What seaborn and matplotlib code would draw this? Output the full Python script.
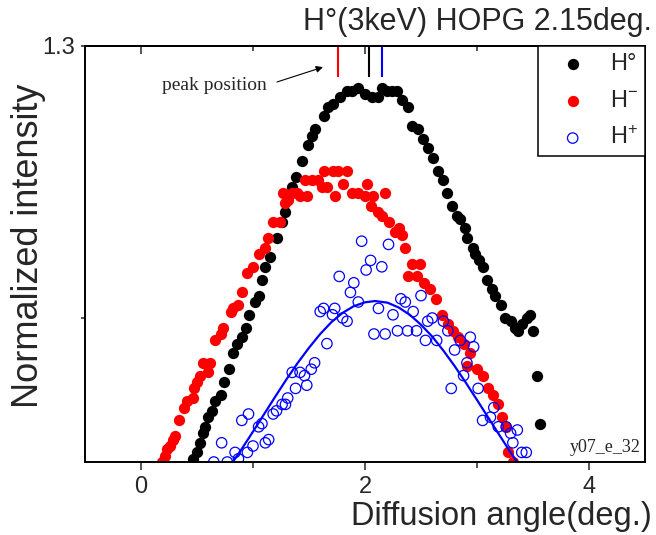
"""H-atom scattering off HOPG: normalized angular distributions."""
import numpy as np
import pandas as pd
import matplotlib.pyplot as plt
import seaborn as sns

sns.set_style("ticks")
plt.rcParams.update({
    "font.family": ["Liberation Sans", "DejaVu Sans"],
    "mathtext.fontset": "custom",
    "mathtext.rm": "Liberation Sans",
    "mathtext.it": "Liberation Sans:italic",
    "mathtext.bf": "Liberation Sans:bold",
    "axes.edgecolor": "black",
    "axes.linewidth": 1.4,
})

# ── data ──────────────────────────────────────────────────────────────────────
# H° (neutral), filled black
h0_x = [0.46, 0.50, 0.53, 0.55, 0.57, 0.60, 0.63, 0.66, 0.71, 0.74, 0.79, 0.82, 0.86, 0.90, 0.94,
        0.96, 1.02, 1.05, 1.08, 1.11, 1.15, 1.21, 1.26, 1.29, 1.35, 1.38, 1.44, 1.49, 1.53, 1.55,
        1.63, 1.67, 1.71, 1.78, 1.84, 1.88, 1.94, 2.00, 2.06, 2.12, 2.15, 2.20, 2.24, 2.29, 2.33,
        2.38, 2.42, 2.47, 2.52, 2.56, 2.61, 2.65, 2.70, 2.73, 2.78, 2.82, 2.85, 2.89, 2.91, 2.96,
        2.98, 3.02, 3.05, 3.09, 3.13, 3.16, 3.21, 3.25, 3.30, 3.34, 3.37, 3.40, 3.45, 3.47, 3.50,
        3.54, 3.56]
h0_y = [0.01, 0.03, 0.06, 0.09, 0.11, 0.14, 0.16, 0.19, 0.21, 0.25, 0.29, 0.34, 0.37, 0.39, 0.42,
        0.46, 0.50, 0.52, 0.57, 0.61, 0.64, 0.70, 0.75, 0.78, 0.86, 0.89, 0.94, 0.99, 1.02, 1.04,
        1.08, 1.11, 1.12, 1.14, 1.16, 1.16, 1.17, 1.15, 1.14, 1.14, 1.17, 1.16, 1.16, 1.16, 1.13,
        1.11, 1.05, 1.04, 1.01, 0.98, 0.95, 0.91, 0.88, 0.84, 0.80, 0.77, 0.76, 0.73, 0.70, 0.67,
        0.65, 0.63, 0.61, 0.57, 0.54, 0.52, 0.49, 0.45, 0.44, 0.42, 0.41, 0.43, 0.45, 0.46, 0.41,
        0.27, 0.12]

# H- (negative ion), filled red
hm_x = [0.19, 0.21, 0.23, 0.26, 0.29, 0.30, 0.34, 0.38, 0.41, 0.46, 0.47, 0.50, 0.53, 0.55, 0.60,
        0.62, 0.66, 0.71, 0.73, 0.80, 0.82, 0.87, 0.90, 0.95, 1.00, 1.05, 1.11, 1.13, 1.18, 1.24,
        1.27, 1.29, 1.31, 1.35, 1.39, 1.42, 1.46, 1.48, 1.53, 1.58, 1.62, 1.63, 1.66, 1.71, 1.73,
        1.76, 1.80, 1.84, 1.88, 1.94, 2.00, 2.02, 2.05, 2.07, 2.12, 2.15, 2.18, 2.21, 2.27, 2.30,
        2.33, 2.36, 2.38, 2.42, 2.46, 2.49, 2.53, 2.58, 2.63, 2.69, 2.74, 2.79, 2.83, 2.88, 2.91,
        2.94, 3.00, 3.05, 3.10, 3.14, 3.19, 3.22, 3.26, 3.28, 3.32]
hm_y = [0.00, 0.02, 0.04, 0.05, 0.07, 0.08, 0.13, 0.17, 0.19, 0.20, 0.23, 0.25, 0.27, 0.31, 0.28,
        0.31, 0.38, 0.40, 0.42, 0.47, 0.48, 0.49, 0.53, 0.59, 0.61, 0.65, 0.67, 0.70, 0.75, 0.75,
        0.84, 0.81, 0.82, 0.84, 0.84, 0.83, 0.88, 0.83, 0.88, 0.88, 0.86, 0.91, 0.86, 0.91, 0.83,
        0.91, 0.87, 0.91, 0.84, 0.84, 0.83, 0.87, 0.80, 0.83, 0.78, 0.77, 0.84, 0.75, 0.72, 0.73,
        0.71, 0.67, 0.58, 0.62, 0.58, 0.62, 0.56, 0.54, 0.51, 0.46, 0.43, 0.41, 0.39, 0.37, 0.30,
        0.34, 0.29, 0.27, 0.23, 0.21, 0.18, 0.14, 0.11, 0.03, 0.00]

# H+ (positive ion), open blue
hp_x = [0.65, 0.72, 0.77, 0.84, 0.87, 0.90, 0.95, 0.96, 1.00, 1.05, 1.08, 1.11, 1.14, 1.18, 1.21,
        1.26, 1.29, 1.31, 1.35, 1.38, 1.42, 1.46, 1.48, 1.52, 1.55, 1.60, 1.63, 1.66, 1.71, 1.73,
        1.77, 1.80, 1.84, 1.87, 1.90, 1.94, 1.97, 2.01, 2.05, 2.08, 2.12, 2.15, 2.18, 2.21, 2.25,
        2.29, 2.32, 2.36, 2.38, 2.43, 2.46, 2.50, 2.54, 2.56, 2.60, 2.64, 2.70, 2.74, 2.77, 2.80,
        2.85, 2.88, 2.91, 2.94, 2.97, 3.01, 3.05, 3.12, 3.15, 3.19, 3.26, 3.30, 3.32, 3.36, 3.40,
        3.44]
hp_y = [0.00, 0.06, 0.00, 0.03, 0.01, 0.13, 0.03, 0.15, 0.05, 0.11, 0.12, 0.06, 0.07, 0.15, 0.16,
        0.18, 0.18, 0.20, 0.28, 0.23, 0.28, 0.27, 0.24, 0.29, 0.31, 0.47, 0.48, 0.37, 0.46, 0.48,
        0.58, 0.45, 0.44, 0.53, 0.56, 0.50, 0.69, 0.60, 0.63, 0.40, 0.48, 0.61, 0.40, 0.68, 0.46,
        0.41, 0.51, 0.50, 0.41, 0.47, 0.41, 0.52, 0.38, 0.44, 0.45, 0.38, 0.44, 0.41, 0.23, 0.35,
        0.38, 0.27, 0.31, 0.39, 0.36, 0.23, 0.13, 0.14, 0.17, 0.11, 0.11, 0.09, 0.06, 0.10, 0.03,
        0.03]

# fitted curve through the H+ data (as drawn in the reference)
fit_x = [0.75, 0.82, 0.90, 1.00, 1.10, 1.20, 1.30, 1.40, 1.50, 1.60, 1.70, 1.80, 1.90, 2.00,
         2.09, 2.20, 2.30, 2.40, 2.50, 2.60, 2.70, 2.80, 2.90, 3.00, 3.10, 3.20, 3.30, 3.36, 3.43]
fit_y = [-0.037, 0.000, 0.041, 0.095, 0.150, 0.205, 0.259, 0.310, 0.357, 0.400, 0.437, 0.466,
         0.487, 0.499, 0.503, 0.498, 0.483, 0.460, 0.429, 0.392, 0.348, 0.300, 0.248, 0.194,
         0.139, 0.084, 0.030, 0.000, -0.037]

# peak positions (deg.) for H-, H°, H+
peak_pos    = [1.76, 2.04, 2.15]
peak_colors = ["red", "black", "blue"]

# ── plot ──────────────────────────────────────────────────────────────────────
fig = plt.figure(figsize=(6.56, 5.35), dpi=100)
ax = fig.add_axes([85 / 656, 1 - 462 / 535, 560 / 656, 416 / 535])

sns.scatterplot(x=h0_x, y=h0_y, ax=ax, color="black", s=66, linewidth=0, label="H°")
sns.scatterplot(x=hm_x, y=hm_y, ax=ax, color="red", s=66, linewidth=0, label="H$^{-}$")
sns.scatterplot(x=hp_x, y=hp_y, ax=ax, marker="o", facecolor="none", edgecolor="blue",
                s=56, linewidth=0.9, label="H$^{+}$")
sns.lineplot(x=fit_x, y=fit_y, ax=ax, color="blue", linewidth=1.6, sort=False,
             estimator=None)

ax.set_xlim(-0.5, 4.5)
ax.set_ylim(0, 1.3)

# peak markers hanging from the top axis
ax.vlines(peak_pos, 1.203, 1.3, colors=peak_colors, linewidth=1.5)
ax.annotate("", xy=(1.625, 1.234), xytext=(1.214, 1.1875),
            arrowprops=dict(arrowstyle="-|>", color="black", lw=0.8,
                            mutation_scale=10, shrinkA=0, shrinkB=0))
ax.text(1.125, 1.178, "peak position", family="Liberation Serif", fontsize=14,
        ha="right", va="center")

# ticks
ax.set_xticks([0, 2, 4])
ax.set_xticks([1, 3], minor=True)
ax.tick_params(axis="x", which="major", direction="out", length=5.8, width=1.1,
               labelsize=17, pad=4)
ax.tick_params(axis="x", which="minor", direction="out", length=4.3, width=1.1)
ax.set_yticks([1.3])
ax.set_yticklabels(["1.3"])
ax.set_yticks([0.45], minor=True)
ax.tick_params(axis="y", which="major", direction="out", length=3, width=1.1,
               labelsize=17, pad=4)
ax.tick_params(axis="y", which="minor", direction="out", length=3, width=1.1)

top = ax.secondary_xaxis("top")
top.set_xticks([0, 2, 4])
top.set_xticks([1, 3], minor=True)
top.tick_params(which="major", direction="in", length=5.8, width=1.1, labeltop=False)
top.tick_params(which="minor", direction="in", length=3.5, width=1.1)

# labels
ax.set_ylabel("Normalized intensity", fontsize=26)
ax.yaxis.set_label_coords(-0.07, 0.52)
ax.set_xlabel("Diffusion angle(deg.)", fontsize=23.5, ha="right", va="baseline")
ax.xaxis.set_label_coords(1.0125, -0.151)
ax.text(1.0125, 1.0385, "H°(3keV) HOPG 2.15deg.", transform=ax.transAxes,
        ha="right", va="baseline", fontsize=22)
ax.text(0.993, 0.034, "y07_e_32", transform=ax.transAxes, family="Liberation Serif",
        fontsize=13, ha="right", va="center")

leg = ax.legend(loc="upper right", bbox_to_anchor=(1, 1), borderaxespad=0,
                frameon=True, fancybox=False, edgecolor="black", framealpha=1,
                fontsize=17, handlelength=2.3, handletextpad=0.42,
                labelspacing=0.62, borderpad=0.3)
leg.get_frame().set_linewidth(1.1)

fig.savefig("out.png", dpi=100)
